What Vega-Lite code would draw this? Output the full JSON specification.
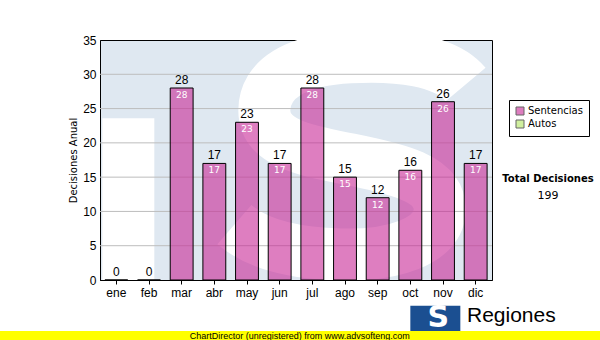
{
  "$schema": "https://vega.github.io/schema/vega-lite/v6.json",
  "width": 392,
  "height": 240,
  "autosize": {"type": "none"},
  "padding": {"left": 100, "top": 40, "right": 108, "bottom": 60},
  "background": "white",
  "config": {
    "view": {"stroke": "black", "strokeWidth": 1, "fill": "#dfe8f1"},
    "font": "Liberation Sans"
  },
  "title": {
    "text": "Total Decisiones",
    "subtitle": "199",
    "anchor": "end",
    "frame": "group",
    "orient": "top",
    "align": "center",
    "dx": 56,
    "dy": 171,
    "font": "DejaVu Sans",
    "fontSize": 10,
    "fontWeight": "bold",
    "color": "black",
    "subtitleFont": "DejaVu Sans",
    "subtitleFontSize": 11,
    "subtitleColor": "black",
    "subtitlePadding": 6
  },
  "resolve": {"axis": {"x": "independent", "y": "independent"}},
  "data": {
    "values": [
      {"mes": "ene", "valor": 0, "serie": "Sentencias"},
      {"mes": "feb", "valor": 0, "serie": "Sentencias"},
      {"mes": "mar", "valor": 28, "serie": "Sentencias"},
      {"mes": "abr", "valor": 17, "serie": "Sentencias"},
      {"mes": "may", "valor": 23, "serie": "Sentencias"},
      {"mes": "jun", "valor": 17, "serie": "Sentencias"},
      {"mes": "jul", "valor": 28, "serie": "Sentencias"},
      {"mes": "ago", "valor": 15, "serie": "Sentencias"},
      {"mes": "sep", "valor": 12, "serie": "Sentencias"},
      {"mes": "oct", "valor": 16, "serie": "Sentencias"},
      {"mes": "nov", "valor": 26, "serie": "Sentencias"},
      {"mes": "dic", "valor": 17, "serie": "Sentencias"}
    ]
  },
  "layer": [
    {
      "transform": [{"filter": "datum.mes === 'ene'"}],
      "mark": {"type": "bar", "color": "white", "opacity": 1, "width": 52, "xOffset": 12},
      "encoding": {
        "x": {"datum": "ene", "type": "nominal", "axis": null},
        "y": {"datum": 23.6, "type": "quantitative", "axis": null},
        "y2": {"datum": 0}
      }
    },
    {
      "transform": [{"filter": "datum.mes === 'ene'"}],
      "mark": {
        "type": "point",
        "shape": "M 0.85 -0.54 C 0.7 -0.72 0.35 -0.76 0 -0.74 C -0.4 -0.72 -0.63 -0.58 -0.63 -0.35 C -0.63 -0.1 -0.3 -0.05 0 0.01 C 0.35 0.08 0.66 0.15 0.66 0.38 C 0.66 0.62 0.3 0.72 -0.07 0.71 C -0.45 0.7 -0.7 0.62 -0.85 0.49",
        "size": 73984,
        "filled": false,
        "stroke": "white",
        "strokeWidth": 52,
        "strokeCap": "butt",
        "opacity": 1,
        "xOffset": 5,
        "clip": true
      },
      "encoding": {
        "x": {"datum": "ago", "type": "nominal", "axis": null},
        "y": {"datum": 17.8, "type": "quantitative", "axis": null}
      }
    },
    {"transform": [{"filter": "datum.mes === 'ene'"}], "mark": {"type": "rule", "color": "#bdbdbd", "strokeWidth": 1}, "encoding": {"y": {"datum": 5, "type": "quantitative", "axis": null}}},
    {"transform": [{"filter": "datum.mes === 'ene'"}], "mark": {"type": "rule", "color": "#bdbdbd", "strokeWidth": 1}, "encoding": {"y": {"datum": 10, "type": "quantitative", "axis": null}}},
    {"transform": [{"filter": "datum.mes === 'ene'"}], "mark": {"type": "rule", "color": "#bdbdbd", "strokeWidth": 1}, "encoding": {"y": {"datum": 15, "type": "quantitative", "axis": null}}},
    {"transform": [{"filter": "datum.mes === 'ene'"}], "mark": {"type": "rule", "color": "#bdbdbd", "strokeWidth": 1}, "encoding": {"y": {"datum": 20, "type": "quantitative", "axis": null}}},
    {"transform": [{"filter": "datum.mes === 'ene'"}], "mark": {"type": "rule", "color": "#bdbdbd", "strokeWidth": 1}, "encoding": {"y": {"datum": 25, "type": "quantitative", "axis": null}}},
    {"transform": [{"filter": "datum.mes === 'ene'"}], "mark": {"type": "rule", "color": "#bdbdbd", "strokeWidth": 1}, "encoding": {"y": {"datum": 30, "type": "quantitative", "axis": null}}},
    {
      "encoding": {
        "x": {
          "field": "mes",
          "type": "nominal",
          "sort": null,
          "scale": {
            "domain": ["ene", "feb", "mar", "abr", "may", "jun", "jul", "ago", "sep", "oct", "nov", "dic"],
            "paddingInner": 0.3,
            "paddingOuter": 0.15
          },
          "axis": {
            "title": null,
            "labelAngle": 0,
            "labelFontSize": 12,
            "labelColor": "black",
            "labelPadding": 3,
            "tickColor": "black",
            "tickSize": 4,
            "domainColor": "black",
            "grid": false
          }
        },
        "y": {
          "field": "valor",
          "type": "quantitative",
          "scale": {"domain": [0, 35], "nice": false},
          "axis": {
            "title": "Decisiones Anual",
            "titleFontSize": 10,
            "titleFontWeight": "normal",
            "titleFont": "DejaVu Sans",
            "titleColor": "black",
            "titlePadding": 4,
            "values": [0, 5, 10, 15, 20, 25, 30, 35],
            "labelFontSize": 12,
            "labelColor": "black",
            "labelPadding": 4,
            "ticks": false,
            "domainColor": "black",
            "grid": false
          }
        }
      },
      "layer": [
        {
          "mark": {"type": "bar", "stroke": "black", "strokeWidth": 1, "fillOpacity": 0.6},
          "encoding": {
            "color": {
              "field": "serie",
              "type": "nominal",
              "scale": {"domain": ["Sentencias", "Autos"], "range": ["#c82896", "#b1e661"]},
              "legend": {
                "title": null,
                "orient": "none",
                "legendX": 409,
                "legendY": 60,
                "direction": "vertical",
                "strokeColor": "black",
                "padding": 6,
                "fillColor": "white",
                "symbolType": "square",
                "symbolSize": 64,
                "symbolStrokeColor": "black",
                "symbolStrokeWidth": 1,
                "symbolOpacity": 0.6,
                "labelFont": "DejaVu Sans",
                "labelFontSize": 10,
                "labelColor": "black",
                "labelOffset": 3,
                "rowPadding": 1
              }
            }
          }
        },
        {
          "mark": {"type": "text", "baseline": "bottom", "dy": -1, "fontSize": 12, "color": "black"},
          "encoding": {"text": {"field": "valor", "type": "quantitative"}}
        },
        {
          "transform": [{"filter": "datum.valor > 0"}],
          "mark": {"type": "text", "baseline": "top", "dy": 3, "fontSize": 9, "color": "white", "font": "DejaVu Sans"},
          "encoding": {"text": {"field": "valor", "type": "quantitative"}}
        }
      ]
    },
    {
      "transform": [{"filter": "datum.mes === 'ene'"}],
      "mark": {"type": "bar", "color": "#1b4f91", "opacity": 1, "width": 50, "xOffset": 25, "clip": false},
      "encoding": {
        "x": {"datum": "oct", "type": "nominal", "axis": null},
        "y": {"datum": -3.75, "type": "quantitative", "axis": null},
        "y2": {"datum": -7.45}
      }
    },
    {
      "transform": [{"filter": "datum.mes === 'ene'"}],
      "mark": {"type": "text", "text": "S", "fontSize": 30, "fontWeight": "bold", "color": "white", "font": "DejaVu Sans", "xOffset": 28, "baseline": "middle", "clip": false},
      "encoding": {
        "x": {"datum": "oct", "type": "nominal", "axis": null},
        "y": {"datum": -5.6, "type": "quantitative", "axis": null}
      }
    },
    {
      "transform": [{"filter": "datum.mes === 'ene'"}],
      "mark": {"type": "text", "text": "Regiones", "fontSize": 21, "color": "black", "align": "left", "baseline": "middle", "dx": 24, "clip": false},
      "encoding": {
        "x": {"datum": "nov", "type": "nominal", "axis": null},
        "y": {"datum": -5.2, "type": "quantitative", "axis": null}
      }
    },
    {
      "transform": [{"filter": "datum.mes === 'ene'"}],
      "mark": {"type": "rect", "color": "#ffff00", "clip": false, "opacity": 1},
      "encoding": {
        "x": {"value": -100},
        "x2": {"value": 500},
        "y": {"datum": -7.45, "type": "quantitative", "axis": null},
        "y2": {"datum": -8.8}
      }
    },
    {
      "transform": [{"filter": "datum.mes === 'ene'"}],
      "mark": {"type": "text", "text": "ChartDirector (unregistered) from www.advsofteng.com", "fontSize": 9, "color": "black", "align": "center", "baseline": "middle", "dx": 20, "clip": false},
      "encoding": {
        "x": {"datum": "jun", "type": "nominal", "axis": null},
        "y": {"datum": -8.1, "type": "quantitative", "axis": null}
      }
    }
  ]
}
